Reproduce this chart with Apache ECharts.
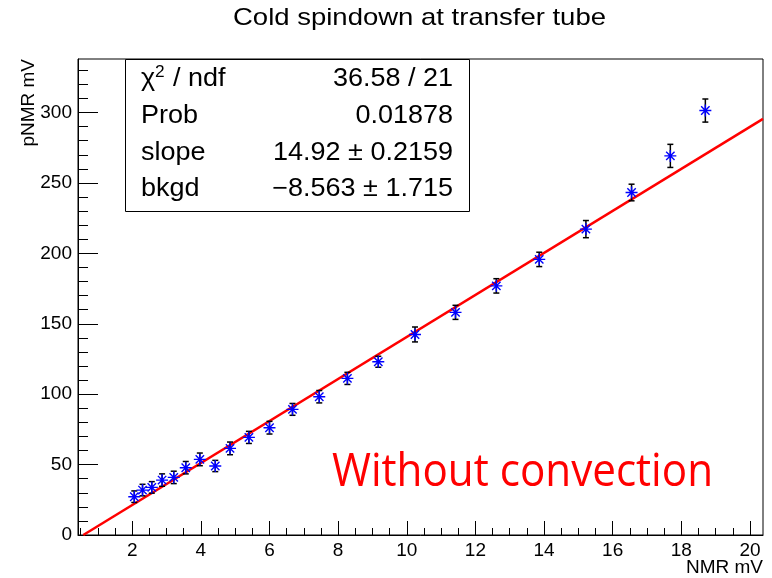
<!DOCTYPE html>
<html><head><meta charset="utf-8">
<script src="https://cdn.jsdelivr.net/npm/echarts@6/dist/echarts.min.js"></script>
<style>html,body{margin:0;padding:0;background:#fff}#c{width:772px;height:578px}</style>
</head><body><div id="c"></div>
<script>
// ---- data ----
const nmrX   = [2.06, 2.30, 2.57, 2.87, 3.21, 3.56, 3.97, 4.42, 4.85, 5.40, 6.00, 6.67, 7.45, 8.27, 9.17, 10.24, 11.42, 12.61, 13.86, 15.22, 16.55, 17.68, 18.70];
const pnmrY  = [27.2, 31.9, 33.8, 39.0, 40.9, 47.8, 53.7, 49.0, 61.5, 69.3, 76.2, 89.2, 98.2, 111.2, 123.0, 142.4, 158.1, 176.9, 195.7, 217.2, 243.2, 269.2, 301.4];
const pnmrErr= [4.1, 4.1, 4.1, 4.4, 4.4, 4.4, 4.5, 4.0, 4.5, 4.3, 4.5, 4.2, 4.4, 4.3, 3.9, 5.3, 5.0, 5.1, 5.1, 6.1, 5.9, 8.2, 8.2];
const fitX = [0.574, 20.38];
const fitY = [0.0, 295.5];
const xMin = 0.42, xMax = 20.38, yMin = 0, yMax = 338;
const xMajorTicks = [2, 4, 6, 8, 10, 12, 14, 16, 18, 20];
const yMajorTicks = [0, 50, 100, 150, 200, 250, 300];
const xMinorTicks = [];
for (let v = 0.5; v <= 20.01; v += 0.5) if (Math.abs(v / 2 - Math.round(v / 2)) > 1e-6) xMinorTicks.push(+v.toFixed(1));
const yMinorTicks = [];
for (let v = 10; v <= 330; v += 10) if (v % 50 !== 0) yMinorTicks.push(v);
const titleText = 'Cold spindown at transfer tube';
const xName = 'NMR mV';
const yName = 'pNMR mV';
const statsLabels = ['Prob', 'slope', 'bkgd'];
const statsValues = ['36.58 / 21', '0.01878', '14.92 \u00b1 0.2159', '\u22128.563 \u00b1 1.715'];
const noteText = 'Without convection';

// ---- helpers ----
const mctx = document.createElement('canvas').getContext('2d');
function measure(text, font) { mctx.font = font; return mctx.measureText(text).width; }

const SF = '"Liberation Sans", Arial, sans-serif';
const statFont = '25px ' + SF;
const sx = 1.08;

function txt(x, y, text, font, align, vAlign, color, extra) {
  return Object.assign({
    type: 'text', x: x, y: y, z: 100,
    style: { text: text, font: font, fill: color || '#000', align: align, textAlign: align,
             verticalAlign: vAlign, textVerticalAlign: vAlign }
  }, extra || {});
}

const titleFont = '24px ' + SF;
const titleScale = 373 / measure(titleText, titleFont);
const noteFont = '45px "Open Sans", sans-serif';
const noteScale = 381 / measure(noteText, noteFont);

const rowY = [79, 116, 153, 189.5];
const graphics = [
  { type: 'rect', z: 90, shape: { x: 125.5, y: 59.5, width: 344, height: 152 }, style: { fill: '#fff', stroke: '#000', lineWidth: 1 } },
  txt(233, 18, titleText, titleFont, 'left', 'middle', '#000', { scaleX: titleScale }),
  txt(763, 568, xName, '19px ' + SF, 'right', 'middle'),
  txt(29, 59, yName, '19px ' + SF, 'right', 'middle', '#000', { rotation: Math.PI / 2 }),
  txt(141, rowY[0], '\u03c7', statFont, 'left', 'middle', '#000', { scaleX: sx }),
  txt(155, 73, '2', '16px ' + SF, 'left', 'middle', '#000', { scaleX: sx }),
  txt(173, rowY[0], '/ ndf', statFont, 'left', 'middle', '#000', { scaleX: sx }),
  txt(332, 473, noteText, noteFont, 'left', 'middle', '#ff0000', { scaleX: noteScale })
];
statsLabels.forEach((s, i) => graphics.push(txt(141, rowY[i + 1], s, statFont, 'left', 'middle', '#000', { scaleX: sx })));
statsValues.forEach((s, i) => graphics.push(txt(453, rowY[i], s, statFont, 'right', 'middle', '#000', { scaleX: sx })));

const pts = nmrX.map((x, i) => [x, pnmrY[i]]);
const errData = nmrX.map((x, i) => [x, pnmrY[i], pnmrErr[i]]);

const labelStyle = { color: '#000', fontSize: 19, fontFamily: 'Liberation Sans' };

const chart = echarts.init(document.getElementById('c'), null, { renderer: 'canvas' });
chart.setOption({
  animation: false,
  backgroundColor: '#fff',
  grid: { left: 78, top: 59, right: 9, bottom: 43, containLabel: false, outerBoundsMode: 'none',
          show: true, borderColor: '#000', borderWidth: 1, backgroundColor: 'transparent' },
  xAxis: [
    { type: 'value', min: xMin, max: xMax, position: 'bottom',
      axisLine: { show: true, onZero: false, lineStyle: { color: '#000', width: 1 } },
      axisTick: { show: true, inside: true, length: 14, customValues: xMajorTicks, lineStyle: { color: '#000', width: 1 } },
      axisLabel: { show: true, customValues: xMajorTicks, margin: 6, ...labelStyle },
      splitLine: { show: false }, minorTick: { show: false } },
    { type: 'value', min: xMin, max: xMax, position: 'bottom', offset: 0,
      axisLine: { show: false, onZero: false },
      axisTick: { show: true, inside: true, length: 7, customValues: xMinorTicks, lineStyle: { color: '#000', width: 1 } },
      axisLabel: { show: false }, splitLine: { show: false } }
  ],
  yAxis: [
    { type: 'value', min: yMin, max: yMax, position: 'left',
      axisLine: { show: true, onZero: false, lineStyle: { color: '#000', width: 1 } },
      axisTick: { show: true, inside: true, length: 20, customValues: yMajorTicks, lineStyle: { color: '#000', width: 1 } },
      axisLabel: { show: true, customValues: yMajorTicks, margin: 6, ...labelStyle },
      splitLine: { show: false }, minorTick: { show: false } },
    { type: 'value', min: yMin, max: yMax, position: 'left', offset: 0,
      axisLine: { show: false, onZero: false },
      axisTick: { show: true, inside: true, length: 10, customValues: yMinorTicks, lineStyle: { color: '#000', width: 1 } },
      axisLabel: { show: false }, splitLine: { show: false } }
  ],
  series: [
    { type: 'line', data: fitX.map((x, i) => [x, fitY[i]]), symbol: 'none', clip: true, z: 2,
      lineStyle: { color: '#ff0000', width: 2.5 } },
    { type: 'custom', data: errData, encode: { x: 0, y: 1 }, z: 3, clip: true,
      renderItem: function (params, api) {
        const x = api.value(0), y = api.value(1), e = api.value(2);
        const t = api.coord([x, y + e]), b = api.coord([x, y - e]);
        const cw = 3, st = { stroke: '#000', lineWidth: 1.5 };
        return { type: 'group', children: [
          { type: 'line', shape: { x1: t[0], y1: t[1], x2: b[0], y2: b[1] }, style: st },
          { type: 'line', shape: { x1: t[0] - cw, y1: t[1], x2: t[0] + cw, y2: t[1] }, style: st },
          { type: 'line', shape: { x1: b[0] - cw, y1: b[1], x2: b[0] + cw, y2: b[1] }, style: st }
        ] };
      } },
    { type: 'scatter', data: pts, z: 4,
      symbol: 'path://M0,5L10,5M5,0L5,10M1.5,1.5L8.5,8.5M8.5,1.5L1.5,8.5', symbolSize: 12,
      itemStyle: { color: 'rgba(0,0,0,0)', borderColor: '#0000ff', borderWidth: 1.4, opacity: 1 } }
  ],
  graphic: { elements: graphics }
});
</script></body></html>
